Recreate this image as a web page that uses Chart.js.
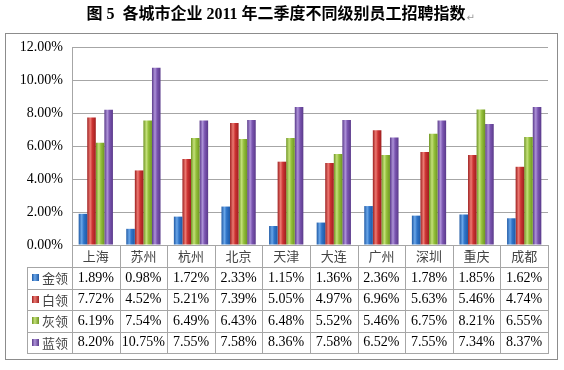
<!DOCTYPE html>
<html>
<head>
<meta charset="utf-8">
<script src="https://cdn.jsdelivr.net/npm/chart.js@4/dist/chart.umd.min.js"></script>
<style>
html,body{margin:0;padding:0;background:#fff;}
#wrap{position:relative;width:564px;height:370px;}
</style>
</head>
<body>
<div id="wrap"><canvas id="c" width="564" height="370"></canvas></div>
<script>
const titleText = '图 5  各城市企业 2011 年二季度不同级别员工招聘指数';
const categories = ['上海','苏州','杭州','北京','天津','大连','广州','深圳','重庆','成都'];
const seriesNames = ['金领','白领','灰领','蓝领'];
const goldCollar  = [1.89, 0.98, 1.72, 2.33, 1.15, 1.36, 2.36, 1.78, 1.85, 1.62];
const whiteCollar = [7.72, 4.52, 5.21, 7.39, 5.05, 4.97, 6.96, 5.63, 5.46, 4.74];
const greyCollar  = [6.19, 7.54, 6.49, 6.43, 6.48, 5.52, 5.46, 6.75, 8.21, 6.55];
const blueCollar  = [8.20, 10.75, 7.55, 7.58, 8.36, 7.58, 6.52, 7.55, 7.34, 8.37];
const yTicks = [0, 2, 4, 6, 8, 10, 12];

const seriesValues = [goldCollar, whiteCollar, greyCollar, blueCollar];
const palette = [
  {dark:'#1f5aa6', mid:'#2f74c8', light:'#6aa6e8'},
  {dark:'#9e1f1f', mid:'#cc3333', light:'#ec7a72'},
  {dark:'#6f9622', mid:'#93bf3a', light:'#c4e07a'},
  {dark:'#5a3a8a', mid:'#7a55b0', light:'#ad92d8'}
];
const CAT_PCT = 0.72;

function barGradient(ctx, dsIndex){
  const chart = ctx.chart;
  const ca = chart.chartArea;
  const p = palette[dsIndex];
  if (!ca || ctx.dataIndex === undefined) return p.mid;
  const xs = chart.scales.x;
  const catW = (ca.right - ca.left) / categories.length;
  const barW = catW * CAT_PCT / seriesNames.length;
  const center = xs.getPixelForValue(ctx.dataIndex);
  const left = center - catW * CAT_PCT / 2 + dsIndex * barW;
  const g = chart.ctx.createLinearGradient(left, 0, left + barW, 0);
  g.addColorStop(0, p.dark);
  g.addColorStop(0.35, p.light);
  g.addColorStop(0.6, p.mid);
  g.addColorStop(1, p.dark);
  return g;
}

const frameAndTable = {
  id: 'frameAndTable',
  beforeDraw(chart){
    const c = chart.ctx;
    c.save();
    c.fillStyle = '#fff';
    c.fillRect(0,0,chart.width,chart.height);
    // outer frame
    c.strokeStyle = '#8c8c8c';
    c.lineWidth = 1;
    c.strokeRect(5.5, 33.5, 552, 326);
    // title
    c.fillStyle = '#000';
    c.font = "bold 16px 'Liberation Serif', 'Noto Sans CJK SC'";
    c.textAlign = 'center';
    c.textBaseline = 'middle';
    c.fillText(titleText, 276, 15);
    const tw = c.measureText(titleText).width;
    c.font = "10px 'DejaVu Sans'";
    c.fillStyle = '#999';
    c.textAlign = 'left';
    c.fillText('↵', 276 + tw/2 + 1, 18);
    c.restore();
  },
  afterDraw(chart){
    const c = chart.ctx;
    const ca = chart.chartArea;
    const xs = chart.scales.x;
    const n = categories.length;
    const catW = (ca.right - ca.left) / n;
    const top = ca.bottom;
    const headerBottom = top + 22;
    const rowH = 21.5;
    const bottom = headerBottom + rowH * seriesNames.length;
    const legendLeft = 27;
    c.save();
    c.strokeStyle = '#a6a6a6';
    c.lineWidth = 1;
    c.beginPath();
    // vertical lines
    for (let i = 0; i <= n; i++){
      const x = Math.round(ca.left + i * catW) + 0.5;
      c.moveTo(x, top); c.lineTo(x, bottom);
    }
    c.moveTo(legendLeft + 0.5, headerBottom); c.lineTo(legendLeft + 0.5, bottom);
    // horizontal lines
    for (let r = 0; r <= seriesNames.length; r++){
      const y = Math.round(headerBottom + r * rowH) + 0.5;
      c.moveTo(legendLeft, y); c.lineTo(Math.round(ca.right) + 1, y);
    }
    c.stroke();
    // header
    c.textAlign = 'center';
    c.textBaseline = 'middle';
    c.font = "13px 'Noto Sans CJK SC'";
    c.fillStyle = '#444';
    categories.forEach((name, i) => {
      c.fillText(name, xs.getPixelForValue(i), top + 11.5);
    });
    // rows
    seriesNames.forEach((s, r) => {
      const cy = headerBottom + r * rowH + rowH / 2 + 0.5;
      const p = palette[r];
      const g = c.createLinearGradient(32, 0, 39, 0);
      g.addColorStop(0, p.dark); g.addColorStop(0.4, p.light); g.addColorStop(1, p.dark);
      c.fillStyle = g;
      c.fillRect(32, Math.round(cy) - 4, 7, 7);
      c.fillStyle = '#444';
      c.textAlign = 'left';
      c.font = "13px 'Noto Sans CJK SC'";
      c.fillText(s, 42, cy);
      c.fillStyle = '#000';
      c.textAlign = 'center';
      c.font = "14px 'Liberation Serif'";
      seriesValues[r].forEach((v, i) => {
        c.fillText(v.toFixed(2) + '%', xs.getPixelForValue(i), cy);
      });
    });
    c.restore();
  }
};

new Chart(document.getElementById('c'), {
  type: 'bar',
  data: {
    labels: categories,
    datasets: seriesNames.map((name, k) => ({
      label: name,
      data: seriesValues[k],
      backgroundColor: (ctx) => barGradient(ctx, k),
      borderWidth: 0,
      barPercentage: 1,
      categoryPercentage: CAT_PCT
    }))
  },
  options: {
    responsive: false,
    animation: false,
    events: [],
    layout: { padding: { left: 0, right: 16, top: 47, bottom: 125 } },
    plugins: { legend: { display: false }, title: { display: false }, tooltip: { enabled: false } },
    scales: {
      x: { display: false },
      y: {
        min: 0, max: 12,
        afterBuildTicks(axis){ axis.ticks = yTicks.map(v => ({value: v})); },
        afterFit(axis){ axis.width = 72; },
        ticks: {
          padding: 9,
          color: '#000',
          font: { family: "'Liberation Serif'", size: 14 },
          callback: (v) => Number(v).toFixed(2) + '%'
        },
        grid: { color: '#a6a6a6', drawTicks: false, lineWidth: 1 },
        border: { display: true, color: '#a6a6a6' }
      }
    }
  },
  plugins: [frameAndTable]
});
</script>
</body>
</html>
